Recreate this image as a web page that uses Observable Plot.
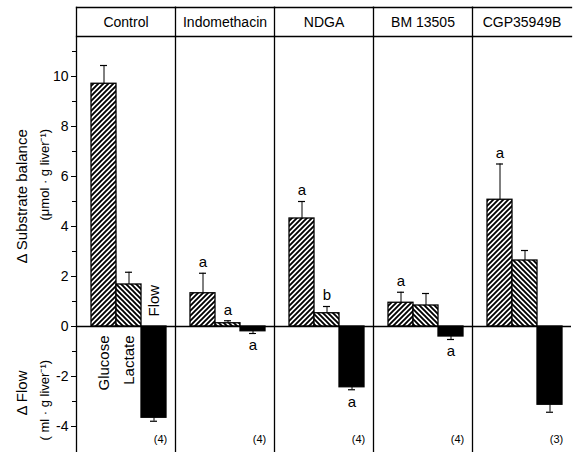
<!DOCTYPE html>
<html><head><meta charset="utf-8">
<script src="https://cdn.jsdelivr.net/npm/d3@7"></script>
<script src="https://cdn.jsdelivr.net/npm/@observablehq/plot@0.6"></script>
<style>
html,body{margin:0;padding:0;background:#fff}
</style></head><body><div id="chart"></div>
<script>
// ---- data ----
const treatments = ["Control", "Indomethacin", "NDGA", "BM 13505", "CGP35949B"];
const seriesNames = ["Glucose", "Lactate", "Flow"];
const glucose    = [9.71, 1.33, 4.32, 0.95, 5.07];
const glucoseErr = [10.44, 2.13, 5.00, 1.37, 6.50];
const lactate    = [1.68, 0.13, 0.53, 0.84, 2.64];
const lactateErr = [2.17, 0.23, 0.80, 1.32, 3.04];
const flow       = [-3.65, -0.19, -2.43, -0.40, -3.13];
const flowErr    = [-3.79, -0.28, -2.53, -0.52, -3.43];
const glucoseSig = ["", "a", "a", "a", "a"];
const lactateSig = ["", "a", "b", "", ""];
const flowSig    = ["", "a", "a", "a", ""];
const nAnimals   = ["(4)", "(4)", "(4)", "(4)", "(3)"];
const yTicks      = [-4, -2, 0, 2, 4, 6, 8, 10];
const yMinorTicks = [-3, -1, 1, 3, 5, 7, 9, 11];
const yTitleTop    = ["Δ Substrate balance", "(μmol · g liver⁻¹)"];
const yTitleBottom = ["Δ Flow", "( ml · g liver⁻¹)"];

// ---- table for the library ----
const rows = [];
treatments.forEach((t, i) => {
  rows.push({treatment: t, series: "Glucose", value: glucose[i], err: glucoseErr[i], sig: glucoseSig[i]});
  rows.push({treatment: t, series: "Lactate", value: lactate[i], err: lactateErr[i], sig: lactateSig[i]});
  rows.push({treatment: t, series: "Flow", value: flow[i], err: flowErr[i], sig: flowSig[i]});
});
const first = () => treatments[0];

const chart = Plot.plot({
  width: 573, height: 452,
  marginLeft: 74, marginRight: 0, marginTop: 36, marginBottom: 0,
  style: {fontFamily: "'Liberation Sans', Arial, Helvetica, sans-serif", fontSize: "14px", color: "black", background: "white", overflow: "visible"},
  fx: {domain: treatments, padding: 0, label: null, axis: null},
  x: {domain: seriesNames, paddingInner: 0, paddingOuter: 0.423, align: 0.636, axis: null},
  y: {domain: [-5.04, 11.6], axis: null},
  color: {type: "ordinal", domain: seriesNames, range: ["url(#hatchG)", "url(#hatchL)", "black"]},
  marks: [
    Plot.barY(rows, {fx: "treatment", x: "series", y: "value", fill: "series", stroke: "black", strokeWidth: 1.3}),
    Plot.ruleX(rows, {fx: "treatment", x: "series", y1: "value", y2: "err", stroke: "black", strokeWidth: 1}),
    Plot.tickY(rows, {fx: "treatment", x: "series", y: "err", insetLeft: 9, insetRight: 9, stroke: "black", strokeWidth: 1.2}),
    Plot.text(rows.filter(d => d.value > 0 && d.sig), {fx: "treatment", x: "series", y: "err", text: "sig", dy: -11, fontSize: 15}),
    Plot.text(rows.filter(d => d.value < 0 && d.sig), {fx: "treatment", x: "series", y: "err", text: "sig", dy: 12, fontSize: 15}),
    Plot.ruleY([0], {stroke: "black", strokeWidth: 1.5}),
    Plot.frame({anchor: "left", insetTop: -29, stroke: "black", strokeWidth: 1.3}),
    Plot.frame({anchor: "top", stroke: "black", strokeWidth: 1.3}),
    Plot.frame({anchor: "top", insetTop: -29, stroke: "black", strokeWidth: 1.3}),
    // panel headers
    Plot.text(treatments, {fx: d => d, frameAnchor: "top", dy: -14, lineAnchor: "middle", text: d => d, fontSize: 14, ariaLabel: "header"}),
    Plot.axisY({ticks: yTicks, tickSize: 5, tickPadding: 3, label: null, fontSize: 14, tickFormat: d => d < 0 ? "-" + Math.abs(d) : String(d)}),
    Plot.axisY({ticks: yMinorTicks, tickSize: 4, text: null, label: null}),
    // series names inside the Control panel
    Plot.text(seriesNames.slice(0, 2), {fx: first, x: d => d, y: 0, text: d => d, rotate: -90, textAnchor: "end", dy: 9, fontSize: 15, ariaLabel: "serieslabel"}),
    Plot.text(seriesNames.slice(2), {fx: first, x: d => d, y: 0, text: d => d, rotate: -90, textAnchor: "start", dy: -10, fontSize: 15, ariaLabel: "serieslabel"}),
    // y titles
    Plot.text([yTitleTop[0]], {fx: first, frameAnchor: "left", textAnchor: "start", y: 2.52, dx: -54, rotate: -90, text: d => d, fontSize: 15, ariaLabel: "ytitle1"}),
    Plot.text([yTitleTop[1]], {fx: first, frameAnchor: "left", textAnchor: "start", y: 4.24, dx: -32, rotate: -90, text: d => d, fontSize: 13, ariaLabel: "yunit1"}),
    Plot.text([yTitleBottom[0]], {fx: first, frameAnchor: "left", textAnchor: "start", y: -3.56, dx: -54, rotate: -90, text: d => d, fontSize: 15, ariaLabel: "ytitle2"}),
    Plot.text([yTitleBottom[1]], {fx: first, frameAnchor: "left", textAnchor: "start", y: -4.56, dx: -32, rotate: -90, text: d => d, fontSize: 13, ariaLabel: "yunit2"}),
    // n per group
    Plot.text(nAnimals, {fx: (d, i) => treatments[i], frameAnchor: "right", textAnchor: "middle", y: -4.5, dx: -15, text: d => d, fontSize: 11, ariaLabel: "nlabel"})
  ]
});

// hatch patterns
const ns = "http://www.w3.org/2000/svg";
const defs = document.createElementNS(ns, "defs");
defs.innerHTML = `
<pattern id="hatchG" patternUnits="userSpaceOnUse" width="5" height="5">
  <rect width="5" height="5" fill="white"/>
  <path d="M-1,1 L1,-1 M0,5 L5,0 M4,6 L6,4" stroke="black" stroke-width="1.9"/>
</pattern>
<pattern id="hatchL" patternUnits="userSpaceOnUse" width="5" height="5">
  <rect width="5" height="5" fill="white"/>
  <path d="M-1,4 L1,6 M0,0 L5,5 M4,-1 L6,1" stroke="black" stroke-width="1.9"/>
</pattern>`;
chart.insertBefore(defs, chart.firstChild);
const sel = (label, ls) => d3.select(chart).selectAll(`g[aria-label="${label}"] text`).style("letter-spacing", ls);
sel("header", "0.8px");
sel("ytitle1", "2px");
sel("ytitle2", "1px");
sel("yunit1", "1.4px");
sel("yunit2", "2.8px");
sel("serieslabel", "1.8px");
sel("nlabel", "2px");
document.getElementById("chart").appendChild(chart);
</script>
</body></html>
